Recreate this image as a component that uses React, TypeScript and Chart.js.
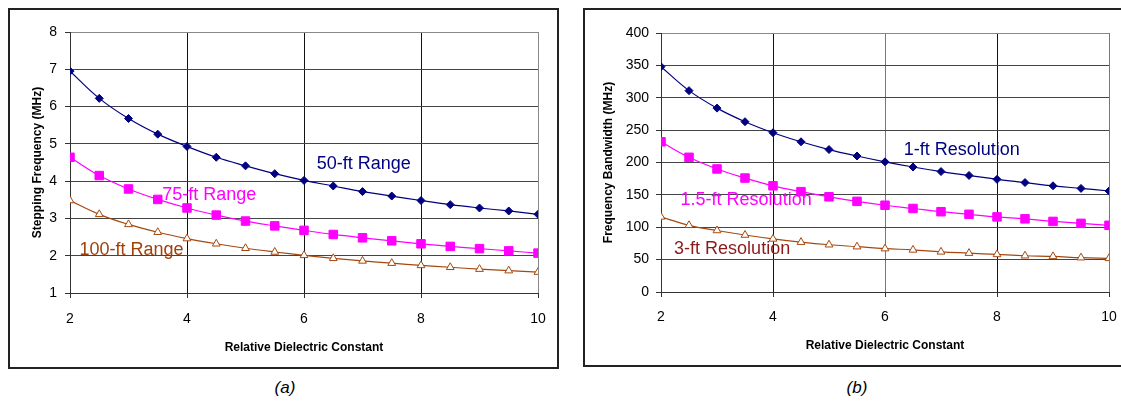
import React, { useEffect, useRef } from "react";
import { Chart, registerables } from "chart.js";

Chart.register(...registerables);

const dielectric = [2, 2.5, 3, 3.5, 4, 4.5, 5, 5.5, 6, 6.5, 7, 7.5, 8, 8.5, 9, 9.5, 10];

const range50 = [6.95, 6.22, 5.68, 5.26, 4.93, 4.64, 4.41, 4.2, 4.02, 3.87, 3.72, 3.6, 3.48, 3.37, 3.28, 3.2, 3.11];
const range75 = [4.64, 4.15, 3.79, 3.51, 3.28, 3.09, 2.93, 2.8, 2.68, 2.57, 2.48, 2.4, 2.32, 2.25, 2.19, 2.13, 2.07];
const range100 = [3.48, 3.11, 2.84, 2.63, 2.46, 2.32, 2.2, 2.1, 2.01, 1.93, 1.86, 1.8, 1.74, 1.69, 1.64, 1.6, 1.56];

const res1 = [348, 311, 284, 263, 246, 232, 220, 210, 201, 193, 186, 180, 174, 169, 164, 160, 156];
const res15 = [232, 208, 190, 176, 164, 155, 147, 140, 134, 129, 124, 120, 116, 113, 109, 106, 103];
const res3 = [116, 103, 95, 88, 82, 77, 73, 70, 67, 65, 62, 60, 58, 56, 55, 53, 52];

const xTicks = [2, 4, 6, 8, 10];
const yTicksA = [1, 2, 3, 4, 5, 6, 7, 8];
const yTicksB = [0, 50, 100, 150, 200, 250, 300, 350, 400];

const labelsA = [
  { text: "50-ft Range", x: 7.02, y: 4.46, color: "#000080" },
  { text: "75-ft Range", x: 4.38, y: 3.63, color: "#FF00FF" },
  { text: "100-ft Range", x: 3.05, y: 2.15, color: "#A0400A" },
];
const labelsB = [
  { text: "1-ft Resolution", x: 7.37, y: 219, color: "#000080" },
  { text: "1.5-ft Resolution", x: 3.52, y: 142, color: "#FF00FF" },
  { text: "3-ft Resolution", x: 3.27, y: 66, color: "#8B1A1A" },
];

const FONT = "'Liberation Sans', Arial, sans-serif";
const NAVY = "#000080";
const MAGENTA = "#FF00FF";
const BROWN = "#A5480F";

type Lbl = { text: string; x: number; y: number; color: string };

function makeLabelPlugin(labels: Lbl[]) {
  return {
    id: "textLabels",
    afterDatasetsDraw(chart: any) {
      const { ctx, scales } = chart;
      ctx.save();
      ctx.font = `18px ${FONT}`;
      ctx.textAlign = "center";
      ctx.textBaseline = "middle";
      for (const l of labels) {
        ctx.fillStyle = l.color;
        ctx.fillText(l.text, scales.x.getPixelForValue(l.x), scales.y.getPixelForValue(l.y));
      }
      ctx.restore();
    },
  };
}

function datasets(a: number[], b: number[], c: number[]) {
  const pts = (ys: number[]) => dielectric.map((x, i) => ({ x, y: ys[i] }));
  return [
    {
      data: pts(a),
      borderColor: NAVY,
      backgroundColor: NAVY,
      borderWidth: 1.2,
      pointStyle: "rectRot",
      pointRadius: 4,
      pointBorderWidth: 1,
      tension: 0.4,
    },
    {
      data: pts(b),
      borderColor: MAGENTA,
      backgroundColor: MAGENTA,
      borderWidth: 1.2,
      pointStyle: "rect",
      pointRadius: 6,
      pointBorderWidth: 1,
      tension: 0.4,
    },
    {
      data: pts(c),
      borderColor: BROWN,
      backgroundColor: "#ffffff",
      borderWidth: 1.2,
      pointStyle: "triangle",
      pointRadius: 4.5,
      pointBorderWidth: 1,
      tension: 0.4,
    },
  ];
}

type Cfg = {
  a: number[];
  b: number[];
  c: number[];
  yMin: number;
  yMax: number;
  yStep: number;
  yTicks: number[];
  yTitle: string;
  yAxisWidth: number;
  xAxisHeight: number;
  padRight: number;
  padTop: number;
  yTickPad: number;
  yTitlePad: number;
  xTickPad: number;
  xTitlePad: number;
  labels: Lbl[];
  vGridColor: (v: number) => string;
};

function PanelChart({ cfg, style }: { cfg: Cfg; style: React.CSSProperties }) {
  const ref = useRef<HTMLCanvasElement | null>(null);
  useEffect(() => {
    if (!ref.current) return;
    const chart = new Chart(ref.current, {
      type: "line",
      data: { datasets: datasets(cfg.a, cfg.b, cfg.c) as any },
      plugins: [makeLabelPlugin(cfg.labels)],
      options: {
        responsive: false,
        animation: false,
        maintainAspectRatio: false,
        layout: { padding: { left: 0, right: cfg.padRight, top: cfg.padTop, bottom: 0 } },
        plugins: { legend: { display: false }, tooltip: { enabled: false } },
        scales: {
          x: {
            type: "linear",
            min: 2,
            max: 10,
            afterBuildTicks: (s: any) => {
              s.ticks = xTicks.map((v) => ({ value: v }));
            },
            afterFit: (s: any) => {
              s.height = cfg.xAxisHeight;
              s.paddingLeft = 0;
              s.paddingRight = 0;
            },
            ticks: {
              stepSize: 2,
              color: "#000",
              padding: cfg.xTickPad,
              maxRotation: 0,
              font: { family: FONT, size: 14 },
            },
            grid: {
              color: (c: any) => cfg.vGridColor(c.tick ? c.tick.value : 0),
              lineWidth: 1,
              tickLength: 5,
              tickColor: "#333",
            },
            border: { display: true, color: "#333", width: 1 },
            title: {
              display: true,
              text: "Relative Dielectric Constant",
              color: "#000",
              font: { family: FONT, size: 12, weight: "bold" },
              padding: cfg.xTitlePad,
            },
          },
          y: {
            type: "linear",
            min: cfg.yMin,
            max: cfg.yMax,
            afterBuildTicks: (s: any) => {
              s.ticks = cfg.yTicks.map((v) => ({ value: v }));
            },
            afterFit: (s: any) => {
              s.width = cfg.yAxisWidth;
              s.paddingTop = 0;
              s.paddingBottom = 0;
            },
            ticks: {
              stepSize: cfg.yStep,
              color: "#000",
              padding: cfg.yTickPad,
              font: { family: FONT, size: 14 },
            },
            grid: {
              color: (c: any) => (c.tick && c.tick.value === cfg.yMax ? "#888" : "#444"),
              lineWidth: 1,
              tickLength: 5,
              tickColor: "#333",
            },
            border: { display: true, color: "#333", width: 1 },
            title: {
              display: true,
              text: cfg.yTitle,
              color: "#000",
              font: { family: FONT, size: 12, weight: "bold" },
              padding: cfg.yTitlePad,
            },
          },
        },
      } as any,
    });
    return () => chart.destroy();
  }, []);
  return (
    <canvas
      ref={ref}
      width={style.width as number}
      height={style.height as number}
      style={{ position: "absolute", ...style }}
    />
  );
}

const cfgA: Cfg = {
  a: range50,
  b: range75,
  c: range100,
  yMin: 1,
  yMax: 8,
  yStep: 1,
  yTicks: yTicksA,
  yTitle: "Stepping Frequency (MHz)",
  yAxisWidth: 60,
  xAxisHeight: 74,
  padRight: 18,
  padTop: 22,
  yTickPad: 8,
  yTitlePad: 20,
  xTickPad: 13,
  xTitlePad: 12,
  labels: labelsA,
  vGridColor: (v) => (v === 10 ? "#888" : "#111"),
};

const cfgB: Cfg = {
  a: res1,
  b: res15,
  c: res3,
  yMin: 0,
  yMax: 400,
  yStep: 50,
  yTicks: yTicksB,
  yTitle: "Frequency Bandwidth (MHz)",
  yAxisWidth: 76,
  xAxisHeight: 72,
  padRight: 12,
  padTop: 23,
  yTickPad: 7,
  yTitlePad: 16,
  xTickPad: 12,
  xTitlePad: 11,
  labels: labelsB,
  vGridColor: (v) => (v === 10 || v === 6 ? "#777" : "#111"),
};

export default function App() {
  return (
    <div
      style={{
        position: "fixed",
        left: 0,
        top: 0,
        width: 1121,
        height: 406,
        background: "#fff",
        overflow: "hidden",
        fontFamily: FONT,
      }}
    >
      <div
        style={{
          position: "absolute",
          left: 8,
          top: 8,
          width: 551,
          height: 361,
          boxSizing: "border-box",
          border: "2px solid #222",
        }}
      />
      <div
        style={{
          position: "absolute",
          left: 583,
          top: 8,
          width: 560,
          height: 359,
          boxSizing: "border-box",
          border: "2px solid #222",
        }}
      />
      <PanelChart cfg={cfgA} style={{ left: 10, top: 10, width: 546, height: 357 }} />
      <PanelChart cfg={cfgB} style={{ left: 585, top: 10, width: 536, height: 354 }} />
      <div
        style={{
          position: "absolute",
          left: 285,
          top: 388,
          transform: "translate(-50%, -50%)",
          fontStyle: "italic",
          fontSize: 17,
          color: "#000",
        }}
      >
        (a)
      </div>
      <div
        style={{
          position: "absolute",
          left: 857,
          top: 388,
          transform: "translate(-50%, -50%)",
          fontStyle: "italic",
          fontSize: 17,
          color: "#000",
        }}
      >
        (b)
      </div>
    </div>
  );
}
